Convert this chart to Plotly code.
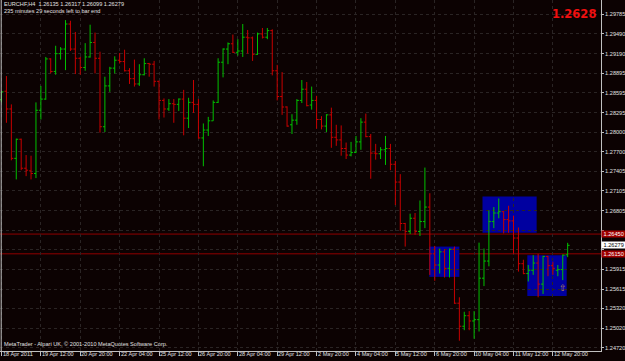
import plotly.graph_objects as go

symbol = "EURCHF,H4"
status_text = "235 minutes 29 seconds left to bar end"
footer_text = "MetaTrader - Alpari UK, \u00a9 2001-2010 MetaQuotes Software Corp."

tick_idx = [0, 8, 16, 24, 32, 40, 48, 56, 64, 72, 80, 88, 96, 104, 112]
tick_text = ["18 Apr 2011", "19 Apr 12:00", "20 Apr 20:00", "22 Apr 04:00", "25 Apr 12:00",
             "26 Apr 20:00", "28 Apr 04:00", "29 Apr 12:00", "2 May 20:00", "4 May 04:00",
             "5 May 12:00", "6 May 20:00", "10 May 04:00", "11 May 12:00", "12 May 20:00"]

price_ticks = [1.29785, 1.29490, 1.29190, 1.28895, 1.28595, 1.28295, 1.28000, 1.27700, 1.27405,
               1.27105, 1.26805, 1.26510, 1.26210, 1.25915, 1.25615, 1.25320, 1.25020, 1.24720]
# grid labels hidden behind the horizontal-line price boxes
covered_ticks = [1.26510, 1.26210]

opens = [1.2849, 1.2862, 1.2835, 1.2760, 1.2789, 1.2745, 1.2741, 1.2737, 1.2833, 1.2850,
         1.2911, 1.2892, 1.2919, 1.2926, 1.2964, 1.2926, 1.2912, 1.2898, 1.2914, 1.2936,
         1.2912, 1.2808, 1.2870, 1.2897, 1.2909, 1.2907, 1.2893, 1.2881, 1.2873, 1.2887,
         1.2904, 1.2903, 1.2877, 1.2848, 1.2835, 1.2843, 1.2842, 1.2850, 1.2821, 1.2845,
         1.2842, 1.2791, 1.2803, 1.2817, 1.2845, 1.2906, 1.2926, 1.2934, 1.2921, 1.2923,
         1.2944, 1.2943, 1.2918, 1.2949, 1.2944, 1.2954, 1.2893, 1.2854, 1.2838, 1.2811,
         1.2818, 1.2848, 1.2865, 1.2841, 1.2848, 1.2819, 1.2809, 1.2826, 1.2792, 1.2788,
         1.2775, 1.2765, 1.2769, 1.2785, 1.2815, 1.2793, 1.2768, 1.2767, 1.2773, 1.2775,
         1.2751, 1.2724, 1.2661, 1.2649, 1.2669, 1.2649, 1.2664, 1.2686, 1.2615, 1.2598,
         1.2618, 1.2593, 1.2622, 1.2540, 1.2505, 1.2521, 1.2513, 1.2515, 1.2578, 1.2604,
         1.2664, 1.2677, 1.2679, 1.2667, 1.2665, 1.2639, 1.2600, 1.2585, 1.2590, 1.2601,
         1.2569, 1.2611, 1.2597, 1.2590, 1.2591, 1.26135]
highs = [1.2862, 1.2885, 1.2842, 1.2790, 1.2790, 1.2765, 1.2764, 1.2845, 1.2870, 1.2914,
         1.2912, 1.2931, 1.2929, 1.2970, 1.2969, 1.2952, 1.2914, 1.2935, 1.2963, 1.2951,
         1.2922, 1.2884, 1.2899, 1.2915, 1.2920, 1.2925, 1.2897, 1.2910, 1.2903, 1.2912,
         1.2905, 1.2908, 1.2878, 1.2851, 1.2850, 1.2850, 1.2851, 1.2864, 1.2852, 1.2879,
         1.2850, 1.2813, 1.2823, 1.2848, 1.2912, 1.2927, 1.2936, 1.2948, 1.2941, 1.2964,
         1.2955, 1.2945, 1.2951, 1.2958, 1.2958, 1.2956, 1.2902, 1.2891, 1.2839, 1.2827,
         1.2850, 1.2879, 1.2876, 1.2869, 1.2855, 1.2824, 1.2827, 1.2837, 1.2811, 1.2810,
         1.2784, 1.2785, 1.2794, 1.2821, 1.2828, 1.2797, 1.2782, 1.2777, 1.2794, 1.2782,
         1.2756, 1.2736, 1.2662, 1.2676, 1.2677, 1.2696, 1.2746, 1.2707, 1.2627, 1.2623,
         1.2622, 1.2623, 1.2626, 1.2549, 1.2527, 1.2528, 1.2528, 1.2632, 1.2623, 1.2681,
         1.2686, 1.2699, 1.2680, 1.2688, 1.2673, 1.2655, 1.2606, 1.2598, 1.2613, 1.2615,
         1.2612, 1.2612, 1.2603, 1.2598, 1.2614, 1.26317]
lows = [1.2845, 1.2814, 1.2757, 1.2728, 1.2742, 1.2733, 1.2728, 1.2730, 1.2819, 1.2849,
        1.2889, 1.2887, 1.2910, 1.2894, 1.2923, 1.2888, 1.2887, 1.2893, 1.2913, 1.2889,
        1.2799, 1.2800, 1.2861, 1.2889, 1.2904, 1.2892, 1.2873, 1.2869, 1.2870, 1.2886,
        1.2884, 1.2869, 1.2819, 1.2822, 1.2832, 1.2814, 1.2832, 1.2795, 1.2806, 1.2829,
        1.2790, 1.2748, 1.2794, 1.2817, 1.2844, 1.2883, 1.2903, 1.2920, 1.2916, 1.2914,
        1.2919, 1.2908, 1.2917, 1.2942, 1.2941, 1.2886, 1.2848, 1.2826, 1.2808, 1.2797,
        1.2811, 1.2844, 1.2839, 1.2834, 1.2805, 1.2804, 1.2800, 1.2776, 1.2779, 1.2764,
        1.2759, 1.2763, 1.2768, 1.2773, 1.2792, 1.2729, 1.2758, 1.2759, 1.2750, 1.2742,
        1.2689, 1.2650, 1.2626, 1.2645, 1.2644, 1.2642, 1.2654, 1.2583, 1.2574, 1.2585,
        1.2579, 1.2579, 1.2539, 1.2483, 1.2499, 1.2499, 1.2486, 1.2497, 1.2566, 1.2596,
        1.2654, 1.2669, 1.2646, 1.2647, 1.2615, 1.2588, 1.2584, 1.2573, 1.2583, 1.2549,
        1.2554, 1.2581, 1.2583, 1.2581, 1.2575, 1.26099]
closes = [1.2861, 1.2835, 1.2760, 1.2789, 1.2745, 1.2742, 1.2737, 1.2833, 1.2850, 1.2911,
          1.2892, 1.2919, 1.2926, 1.2964, 1.2926, 1.2912, 1.2898, 1.2914, 1.2936, 1.2912,
          1.2808, 1.2870, 1.2897, 1.2909, 1.2907, 1.2893, 1.2881, 1.2873, 1.2887, 1.2904,
          1.2903, 1.2877, 1.2848, 1.2835, 1.2843, 1.2842, 1.2850, 1.2821, 1.2845, 1.2842,
          1.2791, 1.2803, 1.2817, 1.2845, 1.2906, 1.2926, 1.2934, 1.2921, 1.2923, 1.2944,
          1.2943, 1.2918, 1.2949, 1.2944, 1.2954, 1.2893, 1.2854, 1.2838, 1.2809, 1.2818,
          1.2848, 1.2865, 1.2840, 1.2848, 1.2819, 1.2809, 1.2826, 1.2792, 1.2788, 1.2775,
          1.2765, 1.2769, 1.2785, 1.2815, 1.2793, 1.2768, 1.2767, 1.2773, 1.2775, 1.2751,
          1.2724, 1.2661, 1.2649, 1.2669, 1.2649, 1.2664, 1.2686, 1.2615, 1.2598, 1.2618,
          1.2593, 1.2622, 1.2540, 1.2505, 1.2521, 1.2513, 1.2515, 1.2578, 1.2604, 1.2664,
          1.2677, 1.2679, 1.2667, 1.2665, 1.2639, 1.2600, 1.2585, 1.2590, 1.2601, 1.2569,
          1.2611, 1.2597, 1.2593, 1.2591, 1.2613, 1.26279]

# chart objects (bar index / price)
rect_x0 = [86.9, 97.7, 106.8]
rect_x1 = [93.0, 108.7, 114.8]
rect_y0 = [1.2580, 1.2647, 1.2551]
rect_y1 = [1.2626, 1.2702, 1.2613]
hline_prices = [1.2645, 1.2615]
arrow_x = [114]
arrow_y = [1.2563]

BG = "#0c0202"
FG = "#e0e0e0"
AX = "#c0c0c0"
GRID = "#2a2424"
SMALL = dict(family="Liberation Sans, Arial, sans-serif", size=5.6, color=FG)

x = list(range(len(opens)))

fig = go.Figure(go.Ohlc(
    x=x, open=opens, high=highs, low=lows, close=closes,
    increasing=dict(line=dict(color="#00c000", width=1)),
    decreasing=dict(line=dict(color="#c80000", width=1)),
    tickwidth=0.4, hoverinfo="skip"))

shapes = []
for a, b, c, d in zip(rect_x0, rect_x1, rect_y0, rect_y1):
    shapes.append(dict(type="rect", xref="x", yref="y", x0=a, x1=b, y0=c, y1=d,
                       fillcolor="#0000a0", line=dict(width=0), layer="below"))
for p in hline_prices:
    shapes.append(dict(type="line", xref="paper", yref="y", x0=0, x1=1, y0=p, y1=p,
                       line=dict(color="#900000", width=1), layer="below"))
shapes.append(dict(type="line", xref="paper", yref="paper", x0=0.002, x1=0.002, y0=0, y1=1,
                   line=dict(color=AX, width=1)))

ann = []
for i, t in zip(tick_idx, tick_text):
    ann.append(dict(x=i, xref="x", y=0, yref="paper", text=t, showarrow=False,
                    xanchor="left", yanchor="top", xshift=0, yshift=1, font=SMALL, borderpad=0))

last = len(closes) - 1
ann.append(dict(x=0, xref="paper", y=1, yref="paper", xanchor="left", yanchor="top",
                xshift=3, yshift=0, showarrow=False, font=SMALL, borderpad=0,
                text=f"{symbol}  {opens[last]:.5f} {highs[last]:.5f} {lows[last]:.5f} {closes[last]:.5f}"))
ann.append(dict(x=0, xref="paper", y=1, yref="paper", xanchor="left", yanchor="top",
                xshift=3, yshift=-7, showarrow=False, font=SMALL, borderpad=0, text=status_text))
ann.append(dict(x=0, xref="paper", y=0, yref="paper", xanchor="left", yanchor="bottom",
                xshift=3, yshift=3, showarrow=False, font=SMALL, borderpad=0, text=footer_text))
ann.append(dict(x=597 / 601, xref="paper", y=1, yref="paper", xanchor="right", yanchor="top",
                yshift=-6, showarrow=False, borderpad=0,
                font=dict(family="DejaVu Sans", size=11.5, color="#f01010"),
                text=f"<b>{closes[last]:.4f}</b>"))
for p in hline_prices:
    ann.append(dict(x=1, xref="paper", y=p, yref="y", xanchor="left", yanchor="middle",
                    xshift=0, showarrow=False, borderpad=0, bgcolor="#a00000",
                    font=dict(family="Liberation Sans, Arial", size=5.6, color="#ffffff"),
                    text=f" {p:.5f} "))
ann.append(dict(x=1, xref="paper", y=closes[last], yref="y", xanchor="left", yanchor="middle",
                showarrow=False, borderpad=0, bgcolor="#ffffff",
                font=dict(family="Liberation Sans, Arial", size=5.6, color="#000000"),
                text=f" {closes[last]:.5f} "))
for ax_, ay_ in zip(arrow_x, arrow_y):
    ann.append(dict(x=ax_, xref="x", y=ay_, yref="y", showarrow=False, text="\u21e7",
                    font=dict(family="DejaVu Sans", size=9, color="#c8904c")))

fig.update_layout(
    width=625, height=361, margin=dict(l=0, r=24, t=0, b=10),
    paper_bgcolor=BG, plot_bgcolor=BG, showlegend=False,
    shapes=shapes, annotations=ann,
    xaxis=dict(range=[-0.305, 121.77], rangeslider=dict(visible=False),
               tickvals=tick_idx, showticklabels=False, ticks="outside", ticklen=4,
               tickcolor=AX, showgrid=True, gridcolor=GRID, griddash="dot", gridwidth=1,
               showline=True, linecolor=AX, linewidth=1, zeroline=False),
    yaxis=dict(side="right", range=[1.24674, 1.30005], tickvals=price_ticks,
               ticktext=["" if v in covered_ticks else f"{v:.5f}" for v in price_ticks],
               ticks="outside", ticklen=2,
               tickcolor=AX, tickfont=SMALL, showgrid=True, gridcolor=GRID, griddash="dot",
               gridwidth=1, showline=True, linecolor=AX, linewidth=1, zeroline=False),
)

fig.write_html("out.html")
